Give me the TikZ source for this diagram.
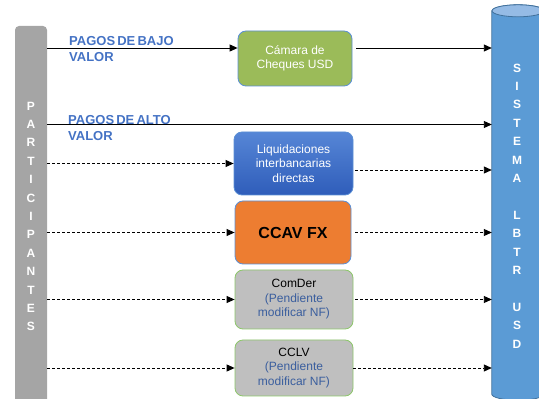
\documentclass[tikz,border=0pt]{standalone}
\usepackage{fontspec}
\setmainfont{Liberation Sans}
\usetikzlibrary{arrows.meta,positioning,calc}
\definecolor{camgreen}{HTML}{9BBB59}
\definecolor{liqtop}{HTML}{5686D6}
\definecolor{liqbot}{HTML}{2F5DBA}
\definecolor{fxorange}{HTML}{ED7D31}
\definecolor{pendgrey}{HTML}{BFBFBF}
\definecolor{pendgreen}{HTML}{8CC66A}
\definecolor{boxblue}{HTML}{5B8FD5}
\definecolor{cylblue}{HTML}{5B9BD5}
\definecolor{cyltop}{HTML}{95BBE5}
\definecolor{cylline}{HTML}{41719C}
\definecolor{bargrey}{HTML}{A5A5A5}
\definecolor{paytext}{HTML}{4472C4}
\definecolor{pendtext}{HTML}{3A5E9E}
\tikzset{
  flowbox/.style={draw=boxblue, line width=0.8pt, rounded corners=8pt, align=center, inner sep=2pt, font=\fontsize{12}{14.5}\selectfont, text=white},
  pendbox/.style={flowbox, draw=pendgreen, fill=pendgrey, text=black},
  vtext/.style={align=center, text=white, inner sep=0pt, font=\bfseries\fontsize{12}{18.4}\selectfont},
  paylabel/.style={anchor=north west, align=left, inner sep=0pt, text=paytext, font=\bfseries\fontsize{13}{16}\selectfont},
  payarrow/.style={-{Triangle[length=8pt,width=7pt]}, line width=0.9pt},
  paydash/.style={payarrow, dash pattern=on 3pt off 2pt}
}

\begin{document}
\begin{tikzpicture}[x=1pt, y=1pt]
\useasboundingbox (0,0) rectangle (539,399);
\clip (0,0) rectangle (539,399);
% participants bar and LBTR cylinder
\node[vtext, fill=bargrey, rounded corners=4pt, minimum width=32pt, minimum height=381pt] (part) at (31,182.5) {P\\A\\R\\T\\I\\C\\I\\P\\A\\N\\T\\E\\S};
\node[minimum width=52pt, minimum height=383pt, inner sep=0pt] (sist) at (518,196.5) {};
\path[fill=cylblue, draw=cylline, line width=0.8pt] (sist.north west) -- (sist.south west)
  arc[start angle=180, end angle=360, x radius=26pt, y radius=6pt] -- (sist.north east)
  arc[start angle=0, end angle=180, x radius=26pt, y radius=6pt] -- cycle;
\draw[fill=cyltop, draw=cylline, line width=0.8pt] (sist.north) ellipse[x radius=26pt, y radius=6pt];
\node[vtext] (sisttxt) at (517,193) {S\\I\\S\\T\\E\\M\\A\\[18.4pt]L\\B\\T\\R\\[18.4pt]U\\S\\D};
% clearing boxes
\node[flowbox, fill=camgreen, minimum width=114pt, minimum height=55pt] (cam) at (295,340.5) {C\'amara de\\Cheques USD};
\node[flowbox, top color=liqtop, bottom color=liqbot, minimum width=119pt, minimum height=63pt] (liq) at (293.5,235.5) {Liquidaciones\\interbancarias\\directas};
\node[flowbox, fill=fxorange, text=black, minimum width=116pt, minimum height=63pt, font=\bfseries\fontsize{16}{19}\selectfont] (ccav) at (293,166.5) {CCAV FX};
\node[pendbox, minimum width=118pt, minimum height=59pt] (comder) at (294,99.5) {ComDer\\\textcolor{pendtext}{(Pendiente}\\\textcolor{pendtext}{modificar NF)}};
\node[pendbox, minimum width=118pt, minimum height=56pt] (cclv) at (294,31) {CCLV\\\textcolor{pendtext}{(Pendiente}\\\textcolor{pendtext}{modificar NF)}};
% payment labels
\node[paylabel] (bajo) at (69,362.5) {PAGOS\,DE\,BAJO\\VALOR};
\node[paylabel] (alto) at (68,283.5) {PAGOS\,DE\,ALTO\\VALOR};
% flows
\coordinate (r1) at (0,351);
\coordinate (r2) at (0,274.5);
\coordinate (r3) at (0,229);
\draw[payarrow] (part.east |- r1) -- (cam.west |- r1);
\draw[payarrow, shorten <=4pt] (cam.east |- r1) -- (sist.west |- r1);
\draw[payarrow] (part.east |- r2) -- (sist.west |- r2);
\draw[paydash] (part.east |- liq.west) -- (liq.west);
\draw[paydash, shorten <=2pt] (liq.east |- r3) -- (sist.west |- r3);
\draw[paydash] (part.east |- ccav.west) -- (ccav.west);
\draw[paydash, shorten <=4pt] (ccav.east) -- (sist.west |- ccav.east);
\draw[paydash] (part.east |- comder.west) -- (comder.west);
\draw[paydash, shorten <=2pt] (comder.east) -- (sist.west |- comder.east);
\draw[paydash] (part.east |- cclv.west) -- (cclv.west);
\draw[paydash] (cclv.east) -- (sist.west |- cclv.east);
\end{tikzpicture}
\end{document}
